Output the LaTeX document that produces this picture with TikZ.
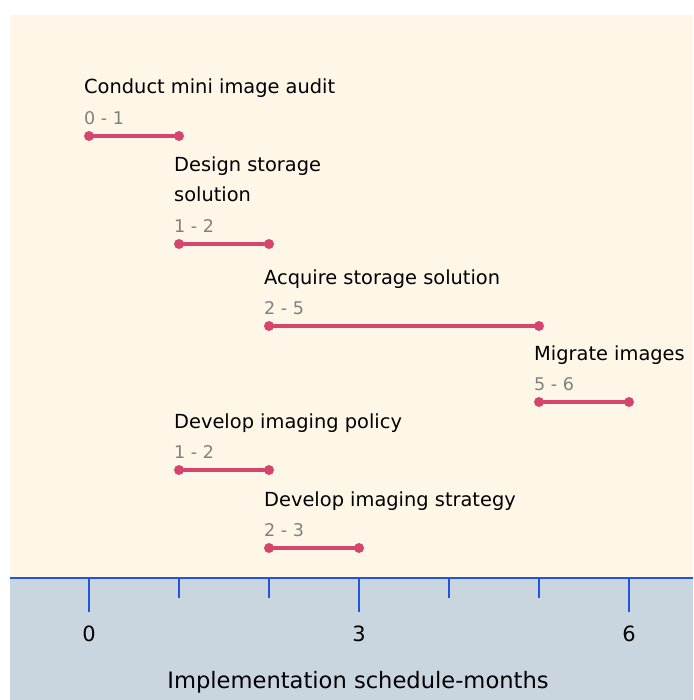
\documentclass[tikz,border=0pt]{standalone}
\usepackage{fontspec}
\setmainfont{DejaVu Sans}

\definecolor{paper}{RGB}{254,246,231}
\definecolor{band}{RGB}{201,213,223}
\definecolor{barred}{RGB}{214,69,110}
\definecolor{axisblue}{RGB}{34,85,221}
\definecolor{rangegray}{RGB}{128,128,128}

\tikzset{
  tasklabel/.style={anchor=base west, inner sep=0pt, align=left, font=\fontsize{19.4}{30}\selectfont},
  spanlabel/.style={anchor=base west, inner sep=0pt, text=rangegray, font=\fontsize{17.5}{20}\selectfont},
  taskbar/.style={barred, line width=4.5pt},
  bardot/.style={fill=barred, draw=none, circle, inner sep=0pt, minimum size=10pt},
  axistick/.style={axisblue, line width=2pt},
  ticklabel/.style={inner sep=0pt, font=\fontsize{21}{24}\selectfont},
  axistitle/.style={inner sep=0pt, font=\fontsize{22.6}{26}\selectfont}
}

\begin{document}
\begin{tikzpicture}[x=1pt,y=-1pt]
  \useasboundingbox (0,0) rectangle (693,700);
  \fill[paper] (10,15) rectangle (693,578);
  \fill[band] (10,578) rectangle (693,700);

  % tasks: start / end / bar height / name
  \foreach \s/\e/\y/\txt [count=\i] in {0/1/136/{Conduct mini image audit},
      1/2/244/{Design storage\\solution}, 2/5/326/{Acquire storage solution},
      5/6/402/{Migrate images}, 1/2/470/{Develop imaging policy},
      2/3/548/{Develop imaging strategy}}{
    \coordinate (s\i) at (89+90*\s,\y);
    \coordinate (e\i) at (89+90*\e,\y);
    \node[spanlabel] (r\i) at (84+90*\s,\y-11.5) {\s{} - \e};
    \node[tasklabel] (t\i) at (84+90*\s,\y-42) {\txt};
    \draw[taskbar] (s\i) -- (e\i);
    \node[bardot] at (s\i) {};
    \node[bardot] at (e\i) {};
  }

  % time axis
  \draw[axistick] (10,578) -- (693,578);
  \foreach \m in {0,...,6}
    \draw[axistick] (89+90*\m,578) -- ++(0,20);
  \foreach \m in {0,3,6}{
    \draw[axistick] (89+90*\m,578) -- ++(0,34);
    \node[ticklabel] (l\m) at (89+90*\m,634) {\m};
  }
  \node[axistitle] (xlabel) at (358,682) {Implementation schedule-months};
\end{tikzpicture}
\end{document}
